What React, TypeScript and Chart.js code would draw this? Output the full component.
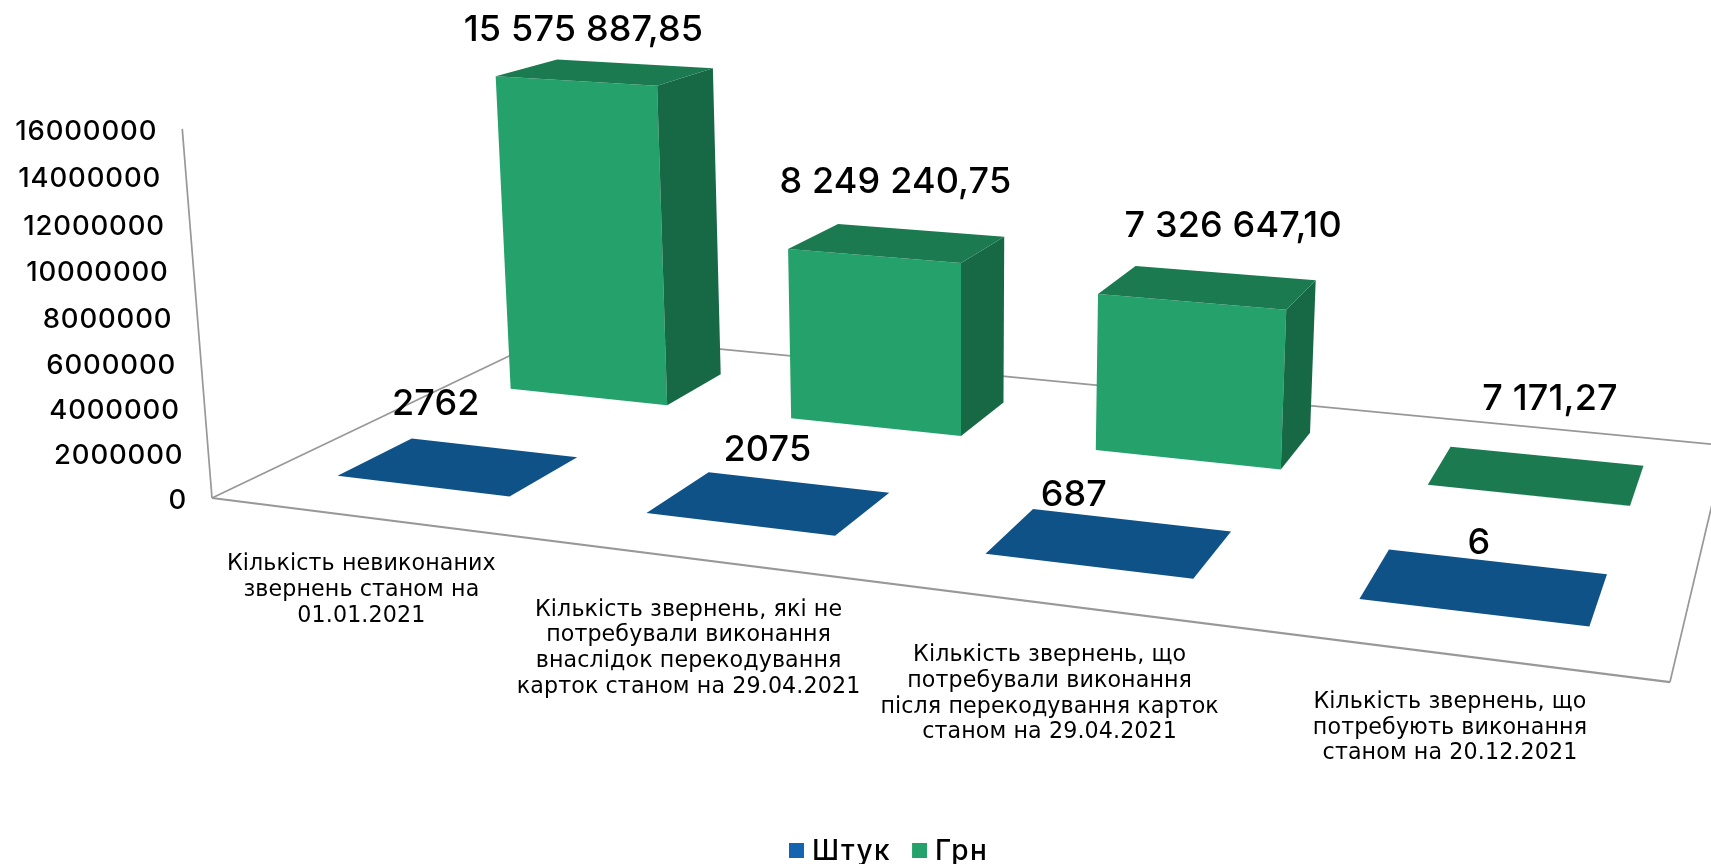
import React, { useEffect, useRef } from "react";
import { Chart, registerables } from "chart.js";

Chart.register(...registerables);

const categories: string[][] = [
  ["Кількість невиконаних", "звернень станом на", "01.01.2021"],
  ["Кількість звернень, які не", "потребували виконання", "внаслідок перекодування", "карток станом на 29.04.2021"],
  ["Кількість звернень, що", "потребували виконання", "після перекодування карток", "станом на 29.04.2021"],
  ["Кількість звернень, що", "потребують виконання", "станом на 20.12.2021"],
];
const countValues = [2762, 2075, 687, 6];
const amountValues = [15575887.85, 8249240.75, 7326647.1, 7171.27];
const seriesNames = ["Штук", "Грн"];

const FONT = "Inter";
const CATEGORY_FONT = "'DejaVu Sans'";
const BLACK = "#000000";
const AXIS = "#989898";

// camera: image of the unit floor (u along categories, v into depth) plus the height direction
const CAM = {
  a: 1152.3, b: 486.3, c: 212,
  d: 59.2, e: -79.5, f: 498,
  g: -0.18304, h: 0.25524,
  zx: -36.7, zy: -374, zw: -0.03816,
};
const project = (u: number, v: number, z: number): [number, number] => {
  const w = 1 + CAM.g * u + CAM.h * v + CAM.zw * z;
  return [
    (CAM.a * u + CAM.b * v + CAM.c + CAM.zx * z) / w,
    (CAM.d * u + CAM.e * v + CAM.f + CAM.zy * z) / w,
  ];
};

const BAR_HALF_U = 0.071;
const BAR_HALF_V = 0.1;
const faces = [
  { front: "#1464B0", side: "#0E4A82", top: "#0F5288" },
  { front: "#25A26B", side: "#176845", top: "#1B7A50" },
];
// hand-placed data labels, relative to the centre of each bar's top face
const labelNudge = [
  [[-23, -62], [-2, -53], [-36, -47], [-6, -43]],
  [[-22, -42], [-2, -61], [25, -61], [13, -76]],
];

const formatCount = (v: number) => String(v);
const formatAmount = (v: number) => {
  const [i, d] = v.toFixed(2).split(".");
  return i.replace(/\B(?=(\d{3})+(?!\d))/g, " ") + "," + d;
};
const formatters = [formatCount, formatAmount];

const poly = (ctx: CanvasRenderingContext2D, pts: [number, number][], fill: string) => {
  ctx.beginPath();
  pts.forEach((p, i) => (i ? ctx.lineTo(p[0], p[1]) : ctx.moveTo(p[0], p[1])));
  ctx.closePath();
  ctx.fillStyle = fill;
  ctx.fill();
};

const line = (ctx: CanvasRenderingContext2D, a: [number, number], b: [number, number], w: number) => {
  ctx.beginPath();
  ctx.moveTo(a[0], a[1]);
  ctx.lineTo(b[0], b[1]);
  ctx.strokeStyle = AXIS;
  ctx.lineWidth = w;
  ctx.stroke();
};

const perspectivePlugin = {
  id: "perspective",
  beforeDatasetsDraw(chart: any) {
    const ctx: any = chart.ctx;
    const xs = chart.scales.x;
    const ys = chart.scales.y;
    const zOf = (value: number) => ys.getDecimalForPixel(ys.getPixelForValue(value));
    const uOf = (i: number) => xs.getDecimalForPixel(xs.getPixelForValue(i));
    const nSeries = chart.data.datasets.length;
    const vOf = (s: number) => (s + 0.5) / nSeries;

    ctx.save();
    // frame
    line(ctx, project(0, 0, 1), project(0, 0, 0), 1.7);
    line(ctx, project(0, 0, 0), project(0, 1, 0), 1.7);
    line(ctx, project(0, 1, 0), project(1, 1, 0), 1.7);
    line(ctx, project(1, 1, 0), project(1, 0, 0), 1.7);
    line(ctx, project(0, 0, 0), project(1, 0, 0), 2.2);

    // y ticks follow the slanted wall
    ctx.fillStyle = BLACK;
    ctx.font = `500 27.5px ${FONT}`;
    ctx.letterSpacing = "0.85px";
    ctx.textAlign = "right";
    ctx.textBaseline = "middle";
    ys.ticks.forEach((t: any) => {
      const p = project(0, 0, zOf(t.value));
      ctx.fillText(String(t.value), p[0] - 25, p[1] + 2.5);
    });

    // boxes: far row first
    for (let s = nSeries - 1; s >= 0; s--) {
      const data: number[] = chart.data.datasets[s].data;
      const v = vOf(s);
      data.forEach((value, i) => {
        const u = uOf(i);
        const z = zOf(value);
        const u0 = u - BAR_HALF_U, u1 = u + BAR_HALF_U;
        const v0 = v - BAR_HALF_V, v1 = v + BAR_HALF_V;
        const c = faces[s];
        poly(ctx, [project(u0, v0, 0), project(u1, v0, 0), project(u1, v0, z), project(u0, v0, z)], c.front);
        poly(ctx, [project(u1, v0, 0), project(u1, v1, 0), project(u1, v1, z), project(u1, v0, z)], c.side);
        poly(ctx, [project(u0, v0, z), project(u1, v0, z), project(u1, v1, z), project(u0, v1, z)], c.top);
      });
    }

    // data labels
    ctx.fillStyle = BLACK;
    ctx.font = `500 36px ${FONT}`;
    ctx.letterSpacing = "0.15px";
    ctx.textAlign = "center";
    ctx.textBaseline = "middle";
    chart.data.datasets.forEach((ds: any, s: number) => {
      ds.data.forEach((value: number, i: number) => {
        const p = project(uOf(i), vOf(s), zOf(value));
        const n = labelNudge[s][i];
        ctx.fillText(formatters[s](value), p[0] + n[0], p[1] + n[1]);
      });
    });

    // category labels below the front edge
    ctx.font = `22.2px ${CATEGORY_FONT}`;
    ctx.letterSpacing = "0.1px";
    chart.data.labels.forEach((lines: string[], i: number) => {
      const p = project(uOf(i), 0, 0);
      const top = p[1] + 47.5 + (lines.length - 3) * 4;
      lines.forEach((text, k) => ctx.fillText(text, p[0] - 3, top + k * 25.6));
    });

    // legend
    ctx.font = `500 28px ${FONT}`;
    ctx.letterSpacing = "1.5px";
    ctx.textAlign = "left";
    ctx.textBaseline = "alphabetic";
    let lx = 789;
    chart.data.datasets.forEach((ds: any) => {
      ctx.fillStyle = ds.backgroundColor;
      ctx.fillRect(lx, 843, 15, 15);
      ctx.fillStyle = BLACK;
      ctx.fillText(ds.label, lx + 23, 860);
      lx += 23 + ctx.measureText(ds.label).width + 21;
    });
    ctx.restore();
    return false;
  },
};

export default function App() {
  const ref = useRef<HTMLCanvasElement>(null);
  useEffect(() => {
    document.body.style.margin = "0";
    document.body.style.background = "#ffffff";
    const chart = new Chart(ref.current as HTMLCanvasElement, {
      type: "bar",
      data: {
        labels: categories as any,
        datasets: [
          { label: seriesNames[0], data: countValues, backgroundColor: faces[0].front },
          { label: seriesNames[1], data: amountValues, backgroundColor: faces[1].front },
        ],
      },
      options: {
        responsive: false,
        animation: false,
        plugins: { legend: { display: false }, tooltip: { enabled: false } },
        scales: {
          x: { display: false },
          y: { display: false, min: 0, max: 16000000, ticks: { stepSize: 2000000 } },
        },
      },
      plugins: [perspectivePlugin],
    });
    return () => chart.destroy();
  }, []);
  return <canvas ref={ref} width={1711} height={864} style={{ display: "block" }} />;
}
